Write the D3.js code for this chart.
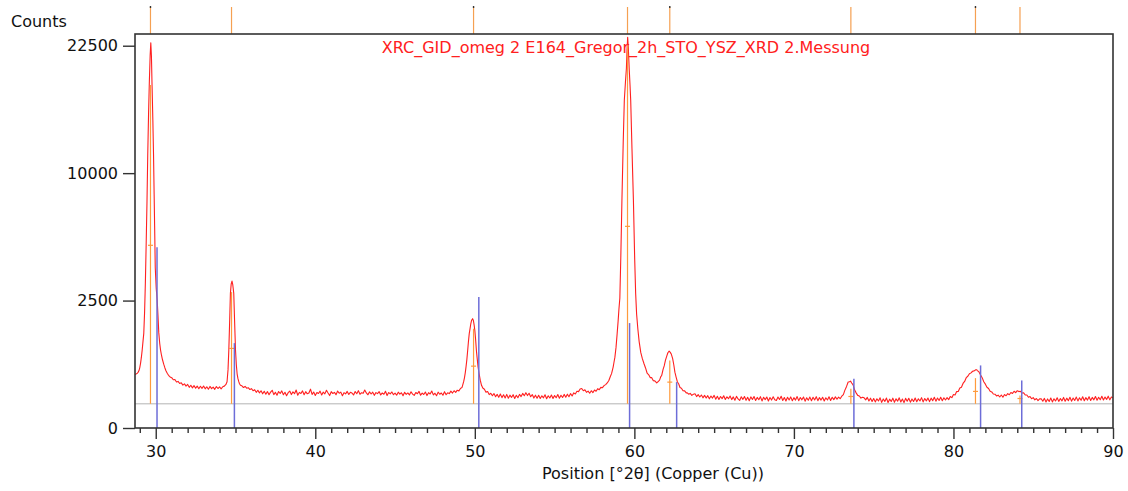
<!DOCTYPE html>
<html>
<head>
<meta charset="utf-8">
<script src="https://cdn.jsdelivr.net/npm/d3@7"></script>
<style>
  html, body { margin: 0; padding: 0; background: #fff; }
  svg { display: block; font-family: "DejaVu Sans", "Noto Sans", sans-serif; }
</style>
</head>
<body>
<svg id="chart" width="1128" height="491"></svg>
<script>
// Measured scan: [position °2θ, counts]
const scan = [
  [28.70,441],[28.75,446],[28.80,455],[28.85,462],[28.90,480],[28.95,508],[29.00,562],[29.05,648],[29.10,772],[29.15,935],
  [29.20,1150],[29.25,1380],[29.30,2050],[29.35,3250],[29.40,5200],[29.45,7800],[29.50,11600],[29.55,15200],[29.60,18500],[29.65,21400],
  [29.69,22840],[29.73,21300],[29.77,18000],[29.82,14500],[29.86,11600],[29.90,8400],[29.93,6300],[29.97,3950],[30.03,3000],[30.09,2520],
  [30.14,1950],[30.19,1400],[30.25,1100],[30.30,940],[30.36,815],[30.42,722],[30.50,628],[30.57,560],[30.64,505],[30.72,462],[30.80,428],
  [30.90,402],[31.00,390],[31.10,358],[31.20,362],[31.30,325],[31.40,334],[31.50,305],[31.60,314],[31.70,283],[31.80,300],[31.90,270],
  [32.00,292],[32.10,255],[32.20,281],[32.30,248],[32.40,276],[32.50,244],[32.60,270],[32.70,237],[32.80,268],[32.90,242],[33.00,272],
  [33.10,236],[33.20,262],[33.30,231],[33.40,266],[33.50,238],[33.60,258],[33.70,230],[33.80,264],[33.90,240],[34.00,260],[34.10,236],
  [34.20,262],[34.30,270],
  [34.40,292],[34.47,330],[34.53,520],[34.58,930],[34.63,1700],[34.68,2790],[34.73,3200],[34.78,3325],[34.83,3150],[34.89,2790],
  [34.94,1800],[35.00,930],[35.05,620],[35.10,452],[35.15,378],[35.20,334],[35.25,302],[35.31,281],[35.40,274],[35.50,252],[35.60,266],[35.70,244],
  [35.80,250],[35.90,228],[36.00,238],[36.10,214],[36.20,226],[36.30,196],[36.40,219],[36.50,190],[36.60,214],[36.70,180],[36.80,207],
  [36.90,176],[37.00,204],[37.10,171],[37.20,198],[37.30,219],[37.40,172],[37.50,196],[37.60,166],[37.70,205],[37.80,183],[37.90,212],
  [38.00,170],[38.10,197],[38.20,160],[38.30,192],[38.40,210],[38.50,172],[38.60,201],[38.70,181],[38.80,222],[38.90,165],[39.00,195],
  [39.10,184],[39.20,212],[39.30,170],[39.40,203],[39.50,180],[39.60,188],[39.70,232],[39.80,174],[39.90,199],[40.00,163],[40.10,194],
  [40.20,183],[40.30,209],[40.40,168],[40.50,198],[40.60,179],[40.70,219],[40.80,188],[40.90,162],[41.00,203],[41.10,183],[41.20,196],
  [41.30,171],[41.40,210],[41.50,186],[41.60,198],[41.70,160],[41.80,192],[41.90,179],[42.00,206],[42.10,173],[42.20,196],[42.30,188],
  [42.40,168],[42.50,204],[42.60,181],[42.70,215],[42.80,175],[42.90,192],[43.00,185],[43.10,222],[43.20,189],[43.30,170],[43.40,201],
  [43.50,178],[43.60,198],[43.70,164],[43.80,193],[43.90,182],[44.00,204],[44.10,168],[44.20,189],[44.30,175],[44.40,208],[44.50,162],
  [44.60,193],[44.70,180],[44.80,200],[44.90,171],[45.00,188],[45.10,166],[45.20,198],[45.30,177],[45.40,191],[45.50,160],[45.60,196],
  [45.70,174],[45.80,189],[45.90,168],[46.00,202],[46.10,177],[46.20,164],[46.30,194],[46.40,181],[46.50,207],[46.60,166],[46.70,188],
  [46.80,173],[46.90,200],[47.00,162],[47.10,192],[47.20,178],[47.30,211],[47.40,169],[47.50,186],[47.60,160],[47.70,198],[47.80,175],
  [47.90,189],[48.00,165],[48.10,203],[48.20,171],[48.30,191],[48.40,182],[48.50,209],[48.60,188],[48.70,214],[48.80,196],[48.90,220],
  [49.00,212],[49.10,240],[49.20,254],
  [49.30,330],[49.35,388],[49.40,468],[49.45,580],[49.50,720],[49.55,920],[49.60,1150],[49.65,1370],[49.70,1520],[49.75,1680],
  [49.80,1790],[49.86,1840],[49.91,1780],[49.96,1620],[50.00,1467],[50.05,1200],[50.10,920],[50.14,773],[50.20,580],[50.27,453],
  [50.34,352],[50.42,281],[50.50,246],
  [50.60,232],[50.70,198],[50.80,204],[50.90,172],[51.00,186],[51.10,160],[51.20,182],[51.30,150],[51.40,174],[51.50,145],[51.60,178],
  [51.70,142],[51.80,170],[51.90,139],[52.00,174],[52.10,136],[52.20,166],[52.30,144],[52.40,171],[52.50,134],[52.60,165],[52.70,141],
  [52.80,174],[52.90,152],[53.00,184],[53.10,160],[53.20,192],[53.30,162],[53.40,186],[53.50,150],[53.60,172],[53.70,138],[53.80,166],
  [53.90,136],[54.00,165],[54.10,134],[54.20,160],[54.30,140],[54.40,170],[54.50,132],[54.60,160],[54.70,139],[54.80,167],[54.90,135],
  [55.00,162],[55.10,141],[55.20,172],[55.30,137],[55.40,165],[55.50,143],[55.60,174],[55.70,146],[55.80,176],[55.90,150],[56.00,182],
  [56.10,158],[56.20,190],[56.30,178],[56.40,208],[56.50,204],[56.60,234],[56.70,240],[56.80,214],[56.90,224],[57.00,196],[57.10,210],
  [57.20,186],[57.30,214],[57.40,192],[57.50,222],[57.60,208],[57.70,238],[57.80,226],[57.90,254],[58.00,250],[58.10,276],[58.20,290],
  [58.30,312],[58.40,348],[58.50,412],[58.57,455],[58.62,512],[58.67,572],[58.72,660],[58.78,773],[58.85,1000],[58.92,1369],
  [58.98,1750],[59.03,2150],[59.09,2600],[59.15,4500],[59.22,7985],[59.30,12500],[59.37,16544],[59.44,18400],[59.50,19900],[59.54,22000],
  [59.58,23490],[59.62,22300],[59.68,19716],[59.73,18000],[59.77,16544],[59.85,12000],[59.94,7985],[60.02,4400],[60.08,2800],[60.14,2000],
  [60.22,1500],[60.30,1150],[60.40,880],[60.50,740],[60.60,640],[60.70,555],[60.80,462],[60.90,436],[61.00,390],[61.08,392],
  [61.18,346],[61.28,342],[61.40,312],[61.49,332],[61.58,352],[61.65,402],[61.71,424],[61.80,528],[61.87,594],[61.95,708],
  [62.03,794],[62.10,872],[62.18,910],[62.25,880],[62.32,836],[62.40,740],[62.47,616],[62.54,480],[62.62,396],[62.70,326],
  [62.78,298],[62.86,252],[62.95,244],[63.05,214],[63.15,212],[63.25,190],
  [63.30,192],[63.40,176],[63.50,184],[63.60,164],[63.70,176],[63.80,180],[63.90,152],[64.00,172],[64.10,148],[64.20,168],[64.30,140],
  [64.40,164],[64.50,138],[64.60,161],[64.70,131],[64.80,157],[64.90,138],[65.00,164],[65.10,128],[65.20,155],[65.30,126],[65.40,153],
  [65.50,133],[65.60,160],[65.70,125],[65.80,150],[65.90,132],[66.00,158],[66.10,124],[66.20,149],[66.30,119],[66.40,154],[66.50,130],
  [66.60,117],[66.70,150],[66.80,126],[66.90,153],[67.00,118],[67.10,146],[67.20,115],[67.30,149],[67.40,125],[67.50,152],[67.60,116],
  [67.70,144],[67.80,123],[67.90,151],[68.00,113],[68.10,145],[68.20,124],[68.30,148],[68.40,112],[68.50,143],[68.60,120],[68.70,150],
  [68.80,122],[68.90,116],[69.00,147],[69.10,125],[69.20,155],[69.30,117],[69.40,143],[69.50,112],[69.60,146],[69.70,121],[69.80,149],
  [69.90,114],[70.00,142],[70.10,120],[70.20,152],[70.30,115],[70.40,143],[70.50,122],[70.60,148],[70.70,111],[70.80,140],[70.90,118],
  [71.00,147],[71.10,114],[71.20,145],[71.30,121],[71.40,151],[71.50,115],[71.60,142],[71.70,120],[71.80,146],[71.90,112],[72.00,141],
  [72.10,121],[72.20,150],[72.30,117],[72.40,145],[72.50,124],[72.60,149],[72.70,127],[72.80,146],
  [72.90,132],[73.00,156],[73.10,172],[73.19,218],[73.30,266],[73.40,326],[73.48,330],[73.55,338],[73.62,312],[73.71,286],[73.80,224],
  [73.90,190],[74.00,164],[74.10,158],[74.20,138],[74.30,146],
  [74.40,140],[74.50,122],[74.60,144],[74.70,113],[74.80,137],[74.90,108],[75.00,134],[75.10,105],[75.20,132],[75.30,112],[75.40,140],
  [75.50,101],[75.60,130],[75.70,109],[75.80,138],[75.90,100],[76.00,128],[76.10,108],[76.20,137],[76.30,102],[76.40,131],[76.50,111],
  [76.60,140],[76.70,104],[76.80,129],[76.90,99],[77.00,135],[77.10,110],[77.20,136],[77.30,103],[77.40,130],[77.50,108],[77.60,139],
  [77.70,106],[77.80,131],[77.90,112],[78.00,142],[78.10,105],[78.20,134],[78.30,113],[78.40,139],[78.50,107],[78.60,137],[78.70,115],
  [78.80,146],[78.90,111],[79.00,138],[79.10,117],[79.20,146],[79.30,115],[79.40,141],[79.50,121],
  [79.60,142],[79.70,124],[79.80,152],[79.90,142],[80.00,172],[80.10,168],[80.20,204],[80.30,206],[80.40,246],[80.50,256],[80.60,306],
  [80.70,334],[80.80,390],[80.90,412],[81.00,452],[81.10,468],[81.20,496],[81.30,502],[81.40,522],[81.45,523],[81.50,508],[81.60,484],
  [81.70,434],[81.80,390],[81.90,330],[82.00,296],[82.10,256],[82.20,240],[82.30,208],[82.40,200],[82.50,178],[82.60,176],[82.70,158],
  [82.80,166],[82.90,148],[83.00,168],[83.10,146],[83.20,172],[83.30,160],[83.40,182],[83.50,170],[83.60,194],[83.70,184],[83.80,208],
  [83.90,192],[84.00,214],[84.10,204],[84.20,207],[84.30,188],[84.40,190],[84.50,168],[84.60,168],[84.70,146],[84.80,152],[84.90,132],
  [85.00,142],[85.10,122],[85.20,134],[85.30,116],[85.40,131],
  [85.50,132],[85.60,110],[85.70,135],[85.80,104],[85.90,130],[86.00,108],[86.10,138],[86.20,105],[86.30,131],[86.40,112],[86.50,141],
  [86.60,109],[86.70,134],[86.80,113],[86.90,144],[87.00,110],[87.10,137],[87.20,115],[87.30,145],[87.40,111],[87.50,139],[87.60,117],
  [87.70,147],[87.80,113],[87.90,140],[88.00,118],[88.10,150],[88.20,115],[88.30,142],[88.40,120],[88.50,151],[88.60,116],[88.70,144],
  [88.80,122],[88.90,153],[89.00,119],[89.10,145],[89.20,123],[89.30,155],[89.40,121],[89.50,147],[89.60,126],[89.70,156],[89.80,122],
  [89.90,148],[90.00,140]
];

// Peak list of the scan (position, top counts, half-height counts)
const peakPositions = [29.67, 34.75, 49.92, 59.57, 62.22, 73.57, 81.38, 84.17];
const peakTops      = [18100, 2845, 1518, 22570, 703, 237, 383, 163];
const peakHalf      = [5138, 975, 589, 6260, 324, 153, 206, 134];
const peakMarked    = [true, false, true, false, true, false, true, false];
const peakBaseline  = 90;

// Reference pattern (YSZ) stick positions and heights
const refPositions = [30.08, 34.93, 50.25, 59.70, 62.65, 73.76, 81.70, 84.28];
const refHeights   = [5025, 1109, 2640, 1695, 324, 373, 603, 348];

// Axis ticks and text
const xMajorTicks = [30, 40, 50, 60, 70, 80, 90];
const xMinorTicks = [29,31,32,33,34,35,36,37,38,39,41,42,43,44,45,46,47,48,49,51,52,53,54,55,56,57,58,59,
                     61,62,63,64,65,66,67,68,69,71,72,73,74,75,76,77,78,79,81,82,83,84,85,86,87,88,89];
const yTicks = [0, 2500, 10000, 22500];
const scanTitle = "XRC_GID_omeg 2 E164_Gregor_2h_STO_YSZ_XRD 2.Messung";
const xTitle = "Position [°2θ] (Copper (Cu))";
const yTitle = "Counts";

const box = { left: 135, right: 1113, top: 34, bottom: 428 };
const svg = d3.select("#chart");

const x = d3.scaleLinear().domain([28.7, 90]).range([box.left, box.right]);
const y = d3.scaleSqrt().domain([0, 23900]).range([box.bottom, box.top]);

svg.append("defs").append("clipPath").attr("id", "plotClip")
  .append("rect")
  .attr("x", box.left).attr("y", box.top)
  .attr("width", box.right - box.left).attr("height", box.bottom - box.top);

// baseline of the peak list
svg.append("line")
  .attr("x1", box.left).attr("x2", box.right)
  .attr("y1", y(peakBaseline)).attr("y2", y(peakBaseline))
  .attr("stroke", "#b4b4b4").attr("stroke-width", 1);

// scan curve
const line = d3.line().x(d => x(d[0])).y(d => y(d[1]));
svg.append("path")
  .datum(scan)
  .attr("clip-path", "url(#plotClip)")
  .attr("fill", "none")
  .attr("stroke", "#ff2020")
  .attr("stroke-width", 1.1)
  .attr("stroke-linejoin", "round")
  .attr("d", line);

// peak list sticks inside the plot
const peaks = peakPositions.map((p, i) => ({ p, top: peakTops[i], half: peakHalf[i], marked: peakMarked[i] }));
const pk = svg.append("g").attr("stroke", "#ff9a3c").attr("stroke-width", 1.2);
pk.selectAll("line.stick").data(peaks).join("line")
  .attr("class", "stick")
  .attr("x1", d => x(d.p)).attr("x2", d => x(d.p))
  .attr("y1", y(peakBaseline)).attr("y2", d => y(d.top));
pk.selectAll("line.half").data(peaks).join("line")
  .attr("class", "half")
  .attr("x1", d => x(d.p) - 2.5).attr("x2", d => x(d.p) + 2.5)
  .attr("y1", d => y(d.half)).attr("y2", d => y(d.half));

// peak markers above the frame
const mk = svg.append("g");
mk.selectAll("line").data(peaks).join("line")
  .attr("x1", d => x(d.p)).attr("x2", d => x(d.p))
  .attr("y1", 7).attr("y2", box.top)
  .attr("stroke", "#f5a052").attr("stroke-width", 1.2);
mk.selectAll("rect").data(peaks.filter(d => d.marked)).join("rect")
  .attr("x", d => x(d.p) - 0.7).attr("y", 6)
  .attr("width", 1.4).attr("height", 2)
  .attr("fill", "#333");

// reference sticks
const refs = refPositions.map((p, i) => ({ p, h: refHeights[i] }));
svg.append("g").selectAll("line").data(refs).join("line")
  .attr("x1", d => x(d.p)).attr("x2", d => x(d.p))
  .attr("y1", y(0)).attr("y2", d => y(d.h))
  .attr("stroke", "#6d6dd8").attr("stroke-width", 1.5);

// frame
svg.append("rect")
  .attr("x", box.left).attr("y", box.top)
  .attr("width", box.right - box.left).attr("height", box.bottom - box.top)
  .attr("fill", "none").attr("stroke", "#333").attr("stroke-width", 1.6);

// axes
const styleAxis = g => {
  g.select(".domain").remove();
  g.selectAll(".tick line").attr("stroke", "#333").attr("stroke-width", 1.4);
  g.selectAll(".tick text").attr("fill", "#111").style("font-size", "16px")
    .style("font-family", "'DejaVu Sans', sans-serif");
};
svg.append("g").attr("transform", `translate(0,${box.bottom})`)
  .call(d3.axisBottom(x).tickValues(xMinorTicks).tickSize(5).tickFormat(""))
  .call(styleAxis);
svg.append("g").attr("transform", `translate(0,${box.bottom})`)
  .call(d3.axisBottom(x).tickValues(xMajorTicks).tickSize(11).tickPadding(7).tickFormat(d3.format("d")))
  .call(styleAxis);
svg.append("g").attr("transform", `translate(${box.left},0)`)
  .call(d3.axisLeft(y).tickValues(yTicks).tickSize(12).tickPadding(5).tickFormat(d3.format("d")))
  .call(styleAxis);

// titles
svg.append("text").attr("x", 11).attr("y", 27)
  .attr("fill", "#111").style("font-size", "16px").text(yTitle);
svg.append("text").attr("x", 653).attr("y", 479)
  .attr("text-anchor", "middle").attr("fill", "#111").style("font-size", "16px").text(xTitle);
svg.append("text").attr("x", 626).attr("y", 53)
  .attr("text-anchor", "middle").attr("fill", "#ff2020").style("font-size", "16px").text(scanTitle);
</script>
</body>
</html>
